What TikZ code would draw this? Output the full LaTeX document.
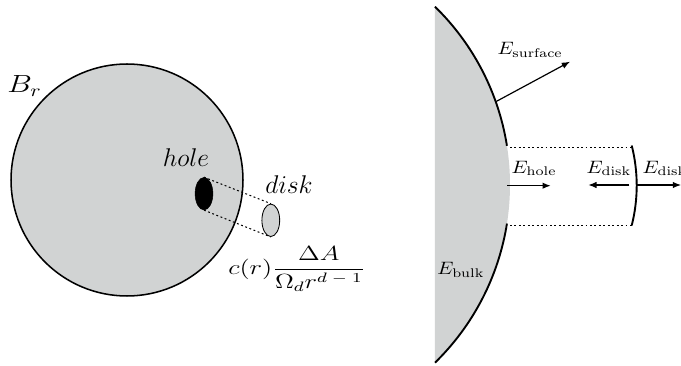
\documentclass[tikz,border=0pt]{standalone}
\usepackage{fix-cm}
\usepackage{amsmath}
\usetikzlibrary{shapes.geometric,arrows.meta}
\definecolor{ballgray}{RGB}{209,211,211}
\newcommand{\wide}[2]{\scalebox{#1}[1]{#2}}
\tikzset{
  lbl/.style={inner sep=0pt, outer sep=0pt, font=\fontsize{10.5}{12}\selectfont},
  biglbl/.style={inner sep=0pt, outer sep=0pt, font=\fontsize{15}{18}\selectfont},
  dotline/.style={line width=0.6pt, dash pattern=on 1.1pt off 1.5pt},
  force/.style={line width=0.7pt, -{Latex[length=4.8pt,width=3.8pt]}},
  rim/.style={line width=1.1pt},
}
\begin{document}
\begin{tikzpicture}[x=0.585pt,y=0.585pt]
\useasboundingbox (0,0) rectangle (681,365);
% ---------- left: ball with a hole ----------
\node[circle, draw, line width=0.9pt, fill=ballgray, minimum size=135.7pt, inner sep=0pt] (ball) at (127,185) {};
\node[ellipse, fill=black, draw=black, line width=0.3pt, minimum width=10.4pt, minimum height=19pt, inner sep=0pt] (hole) at (204,171.3) {};
\node[ellipse, fill=ballgray, draw=black, line width=0.5pt, minimum width=10.4pt, minimum height=19pt, inner sep=0pt] (disk) at (270.8,144.7) {};
\draw[dotline] (hole.north) -- (disk.north);
\draw[dotline] (hole.south) -- (disk.south);
\node[inner sep=0pt, anchor=base west, font=\fontsize{14.5}{17}\selectfont] (Br) at (7,272.3) {\wide{1.25}{$B_r$}};
\node[biglbl, anchor=base] (holelbl) at (186,198.3) {$hole$};
\node[biglbl, anchor=base] (disklbl) at (289,171) {$disk$};
\node[inner sep=0pt, anchor=west, font=\fontsize{12}{14}\selectfont] (formula) at (228,96) {\wide{1.3}{$\displaystyle c(r)\frac{\Delta A}{\Omega_d r^{d\mskip5mu-\mskip5mu1}}$}};
% ---------- right: boundary piece ----------
\fill[ballgray] (261.3,180.3) ++(45.7:248.7) arc[start angle=45.7, end angle=-45.7, radius=248.7] -- cycle;
\draw[rim] (261.3,180.3) ++(45.7:248.7) arc[start angle=45.7, end angle=9, radius=248.7] coordinate (gaptop);
\draw[rim] (261.3,180.3) ++(-9:248.7) coordinate (gapbot) arc[start angle=-9, end angle=-45.7, radius=248.7];
\coordinate (dtop) at (631.7,219.5);
\coordinate (dbot) at (631.7,139.5);
\draw[rim] (dtop) arc[start angle=14.25, end angle=-14.25, radius=162.5];
\coordinate (lt) at (510,217.5);
\coordinate (lb) at (510,139.3);
\draw[dotline] (lt) -- (lt -| dtop);
\draw[dotline] (lb) -- (lb -| dbot);
% surface arrow
\coordinate (s0) at (495.8,263.3);
\coordinate (s1) at (570,303.3);
\draw[force] (s0) -- (s1);
% hole / disk arrows
\coordinate (h0) at (507.3,179.3);
\coordinate (h1) at (550.7,179.3);
\draw[force] (h0) -- (h1);
\coordinate (d0) at (629.3,180);
\coordinate (d1) at (588.3,180);
\draw[force] (d0) -- (d1);
\coordinate (e0) at (637.3,180);
\coordinate (e1) at (681,180);
\draw[force] (e0) -- (e1);
% labels
\node[lbl, anchor=base west] (Esurf) at (497.5,310) {\wide{1.13}{$E_{\mathrm{surface}}$}};
\node[lbl, anchor=base west] (Ehole) at (511.7,191.7) {\wide{1.13}{$E_{\mathrm{hole}}$}};
\node[lbl, anchor=base west] (Edisk) at (586.7,191.7) {\wide{1.13}{$E_{\mathrm{disk}}$}};
\node[lbl, anchor=base west] (Edisk2) at (642.7,191.7) {\wide{1.13}{$E_{\mathrm{disk}}$}};
\node[lbl, anchor=base west] (Ebulk) at (437.3,90) {\wide{1.13}{$E_{\mathrm{bulk}}$}};
\end{tikzpicture}
\end{document}
